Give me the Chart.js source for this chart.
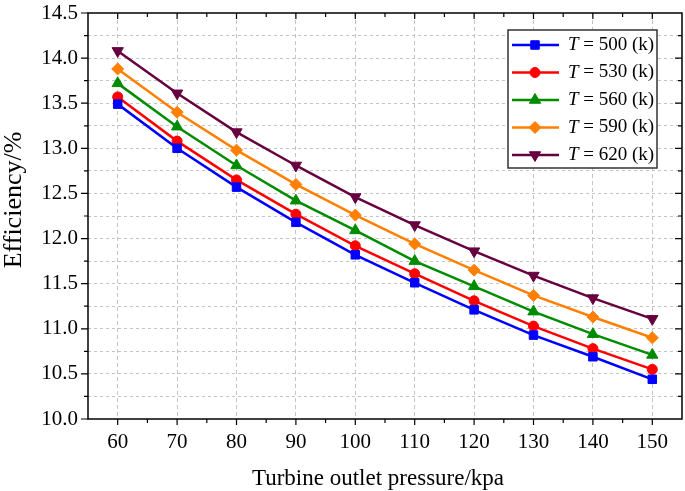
<!DOCTYPE html>
<html>
<head>
<meta charset="utf-8">
<script src="https://cdn.jsdelivr.net/npm/chart.js@4"></script>
<style>
  html, body { margin: 0; padding: 0; background: #fff; }
  #wrap { width: 685px; height: 491px; }
</style>
</head>
<body>
<div id="wrap"><canvas id="effChart" width="685" height="491"></canvas></div>
<script>
// Turbine outlet pressure (kpa)
const pressure = [60, 70, 80, 90, 100, 110, 120, 130, 140, 150];
// Turbine inlet temperatures (k)
const temps = ['500', '530', '560', '590', '620'];
// Efficiency (%) for each temperature
const eff500 = [13.49, 13.00, 12.57, 12.18, 11.82, 11.51, 11.21, 10.93, 10.69, 10.44];
const eff530 = [13.57, 13.08, 12.65, 12.27, 11.92, 11.61, 11.31, 11.03, 10.78, 10.55];
const eff560 = [13.72, 13.24, 12.81, 12.42, 12.09, 11.75, 11.47, 11.19, 10.94, 10.71];
const eff590 = [13.88, 13.40, 12.98, 12.60, 12.26, 11.94, 11.65, 11.37, 11.13, 10.90];
const eff620 = [14.08, 13.61, 13.18, 12.81, 12.46, 12.15, 11.86, 11.59, 11.34, 11.11];

const xTitle = 'Turbine outlet pressure/kpa';
const yTitle = 'Efficiency/%';

const FONT = "'Liberation Serif', serif";

const seriesStyle = [
  { values: eff500, color: '#0000ff', pointStyle: 'rect', radius: 6, rotation: 0 },
  { values: eff530, color: '#ff0000', pointStyle: 'circle', radius: 5, rotation: 0 },
  { values: eff560, color: '#008c00', pointStyle: 'triangle', radius: 6.5, rotation: 0 },
  { values: eff590, color: '#ff8000', pointStyle: 'rectRot', radius: 6, rotation: 0 },
  { values: eff620, color: '#66003f', pointStyle: 'triangle', radius: 6.5, rotation: 180 },
];

const datasets = seriesStyle.map((s, i) => ({
  label: 'T = ' + temps[i] + ' (k)',
  data: pressure.map((p, j) => ({ x: p, y: s.values[j] })),
  borderColor: s.color,
  backgroundColor: s.color,
  borderWidth: 2.5,
  pointStyle: s.pointStyle,
  pointRadius: s.radius,
  pointHoverRadius: s.radius,
  pointRotation: s.rotation,
  pointBorderWidth: 1,
  tension: 0,
}));

function isMult(v, step) {
  return Math.abs(v / step - Math.round(v / step)) < 1e-6;
}

// Frame with ticks on all four sides, axis titles and the legend box
const framePlugin = {
  id: 'frame',
  afterDraw(chart) {
    const { ctx, chartArea: a, scales } = chart;
    ctx.save();
    ctx.strokeStyle = '#000';
    ctx.lineWidth = 1.5;
    ctx.strokeRect(a.left, a.top, a.right - a.left, a.bottom - a.top);

    ctx.lineWidth = 1.2;
    ctx.beginPath();
    scales.x.ticks.forEach(t => {
      const v = t.value;
      if (v <= 55 || v >= 155) return;
      const px = scales.x.getPixelForValue(v);
      const len = isMult(v, 10) ? 6 : 4;
      ctx.moveTo(px, a.bottom); ctx.lineTo(px, a.bottom + len);
      ctx.moveTo(px, a.top); ctx.lineTo(px, a.top + len);
    });
    scales.y.ticks.forEach(t => {
      const v = t.value;
      const py = scales.y.getPixelForValue(v);
      const len = isMult(v, 0.5) ? 7 : 4;
      ctx.moveTo(a.left, py); ctx.lineTo(a.left - len, py);
      if (v > 10 && v < 14.5) { ctx.moveTo(a.right, py); ctx.lineTo(a.right - len, py); }
    });
    ctx.stroke();

    // Axis titles
    ctx.fillStyle = '#000';
    ctx.textAlign = 'center';
    ctx.textBaseline = 'alphabetic';
    ctx.font = '23px ' + FONT;
    ctx.fillText(xTitle, (a.left + a.right) / 2 - 7, 485);
    ctx.save();
    ctx.font = '26px ' + FONT;
    ctx.translate(21, 200);
    ctx.rotate(-Math.PI / 2);
    ctx.fillText(yTitle, 0, 0);
    ctx.restore();

    // Legend
    const box = { x: 508, y: 30, w: 149, h: 138 };
    ctx.fillStyle = '#fff';
    ctx.fillRect(box.x, box.y, box.w, box.h);
    ctx.lineWidth = 1.5;
    ctx.strokeStyle = '#333';
    ctx.strokeRect(box.x, box.y, box.w, box.h);
    chart.data.datasets.forEach((ds, i) => {
      const cy = box.y + 15 + i * 27.5;
      ctx.strokeStyle = ds.borderColor;
      ctx.lineWidth = 2.5;
      ctx.beginPath();
      ctx.moveTo(box.x + 4, cy); ctx.lineTo(box.x + 51, cy);
      ctx.stroke();
      ctx.fillStyle = ds.backgroundColor;
      ctx.lineWidth = 1;
      Chart.helpers.drawPoint(ctx, {
        pointStyle: ds.pointStyle, radius: ds.pointRadius, rotation: ds.pointRotation, borderWidth: 1
      }, box.x + 27, cy);
      ctx.fillStyle = '#000';
      ctx.textBaseline = 'middle';
      ctx.textAlign = 'left';
      ctx.font = 'italic 19px ' + FONT;
      const tx = box.x + 60;
      ctx.fillText('T', tx, cy);
      const tw = ctx.measureText('T').width;
      ctx.font = '19px ' + FONT;
      ctx.fillText(' = ' + temps[i] + ' (k)', tx + tw, cy);
    });
    ctx.restore();
  }
};

new Chart(document.getElementById('effChart'), {
  type: 'line',
  data: { datasets },
  options: {
    responsive: false,
    animation: false,
    layout: { autoPadding: false, padding: { top: 13, right: 3, left: 0, bottom: 0 } },
    plugins: {
      legend: { display: false },
      tooltip: { enabled: false },
    },
    scales: {
      x: {
        type: 'linear',
        min: 55,
        max: 155,
        afterFit(s) { s.height = 72; s.paddingLeft = 0; s.paddingRight = 0; },
        ticks: {
          stepSize: 5,
          autoSkip: false,
          maxRotation: 0,
          padding: 11,
          color: '#000',
          font: { family: FONT, size: 21 },
          callback: v => (isMult(v, 10) && v >= 60 && v <= 150) ? String(v) : '',
        },
        grid: {
          drawTicks: false,
          lineWidth: 1,
          color: c => (isMult(c.tick.value, 10) && c.tick.value > 55 && c.tick.value < 155) ? '#c4c4c4' : 'rgba(0,0,0,0)',
        },
        border: { display: false, dash: [4, 3] },
      },
      y: {
        min: 10,
        max: 14.5,
        afterFit(s) { s.width = 88; s.paddingTop = 0; s.paddingBottom = 0; },
        ticks: {
          stepSize: 0.25,
          autoSkip: false,
          padding: 10,
          color: '#000',
          font: { family: FONT, size: 21 },
          callback: v => isMult(v, 0.5) ? v.toFixed(1) : '',
        },
        grid: {
          drawTicks: false,
          lineWidth: 1,
          color: c => (c.tick.value > 10 && c.tick.value < 14.5) ? '#c4c4c4' : 'rgba(0,0,0,0)',
        },
        border: { display: false, dash: [3, 3] },
      },
    },
  },
  plugins: [framePlugin],
});
</script>
</body>
</html>
